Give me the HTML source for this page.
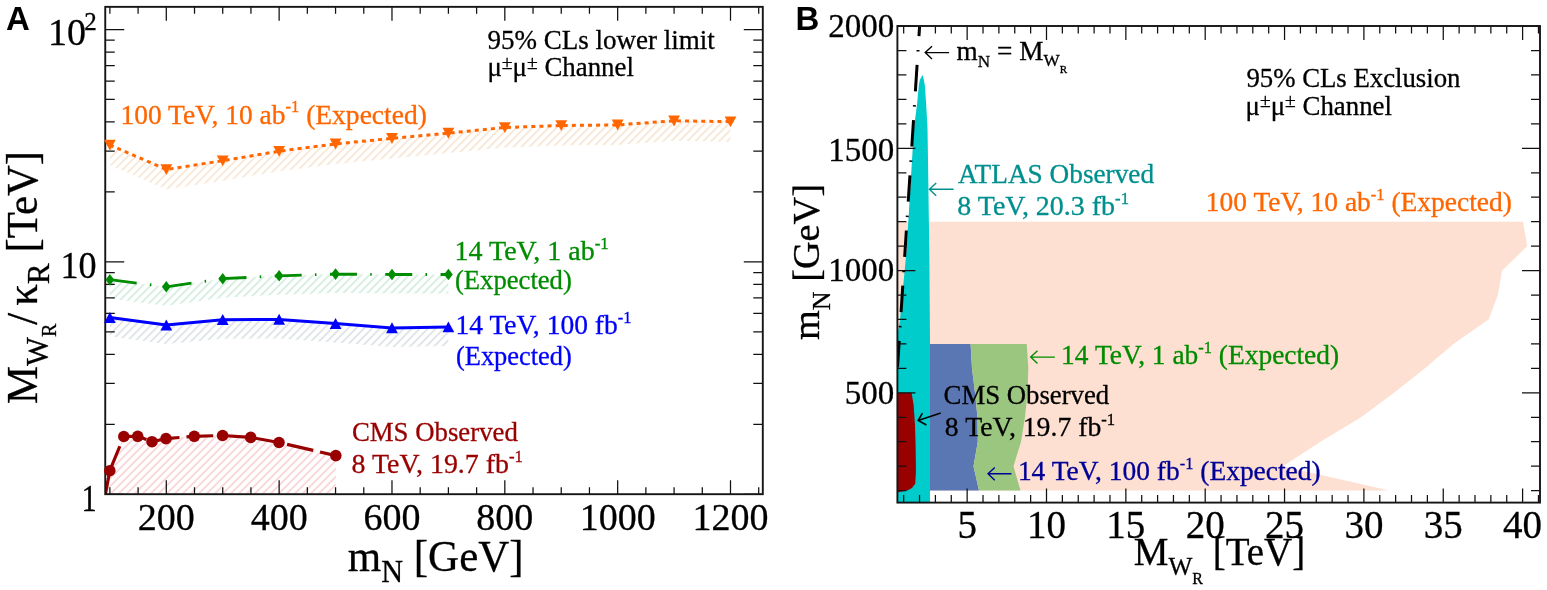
<!DOCTYPE html>
<html><head><meta charset="utf-8"><style>html,body{margin:0;padding:0;background:#fff;}svg{display:block;}</style></head>
<body>
<svg width="1547" height="590" viewBox="0 0 1547 590">
<defs>
<clipPath id="clipA"><rect x="105.25" y="6.85" width="657.55" height="487.35"/></clipPath>
<clipPath id="clipB"><rect x="897.40" y="26.00" width="642.60" height="476.60"/></clipPath>
<pattern id="hOr" patternUnits="userSpaceOnUse" width="5.66" height="8" patternTransform="rotate(45)"><line x1="2.83" y1="0" x2="2.83" y2="8" stroke="#f1d4b4" stroke-width="1.0"/></pattern>
<pattern id="hGr" patternUnits="userSpaceOnUse" width="5.66" height="8" patternTransform="rotate(45)"><line x1="2.83" y1="0" x2="2.83" y2="8" stroke="#b4dec8" stroke-width="1.0"/></pattern>
<pattern id="hBl" patternUnits="userSpaceOnUse" width="5.66" height="8" patternTransform="rotate(45)"><line x1="2.83" y1="0" x2="2.83" y2="8" stroke="#c4d0d2" stroke-width="1.0"/></pattern>
<pattern id="hRd" patternUnits="userSpaceOnUse" width="5.66" height="8" patternTransform="rotate(45)"><line x1="2.83" y1="0" x2="2.83" y2="8" stroke="#f09fa7" stroke-width="0.8"/></pattern>
</defs>
<rect x="0" y="0" width="1547" height="590" fill="#fff"/>
<g clip-path="url(#clipA)">
<polygon points="109.88,145.00 166.30,169.50 222.72,160.70 279.14,151.20 335.56,143.90 391.98,138.40 448.40,133.10 504.82,127.50 561.24,125.50 617.66,124.90 674.08,120.80 730.50,121.70 730.50,141.70 674.08,140.80 617.66,144.90 561.24,145.50 504.82,147.50 448.40,153.10 391.98,158.40 335.56,163.90 279.14,171.20 222.72,180.70 166.30,189.50 109.88,165.00" fill="url(#hOr)"/>
<polygon points="109.88,279.70 166.30,286.80 222.72,278.70 279.14,275.80 335.56,274.10 391.98,274.50 448.40,274.50 448.40,293.50 391.98,293.50 335.56,293.10 279.14,294.80 222.72,297.70 166.30,305.80 109.88,298.70" fill="url(#hGr)"/>
<polygon points="109.88,317.60 166.30,325.10 222.72,319.70 279.14,319.40 335.56,323.60 391.98,327.90 448.40,327.00 448.40,346.00 391.98,346.90 335.56,342.60 279.14,338.40 222.72,338.70 166.30,344.10 109.88,336.60" fill="url(#hBl)"/>
<polygon points="104.30,500.00 109.80,470.70 123.80,436.50 137.70,436.30 152.00,441.70 166.00,438.60 194.30,436.30 222.60,435.50 250.70,437.40 279.00,442.50 335.80,455.60 335.80,500.00" fill="url(#hRd)"/>
<polyline points="109.88,145.00 166.30,169.50 222.72,160.70 279.14,151.20 335.56,143.90 391.98,138.40 448.40,133.10 504.82,127.50 561.24,125.50 617.66,124.90 674.08,120.80 730.50,121.70" fill="none" stroke="#ff6600" stroke-width="3" stroke-dasharray="4 4.1"/>
<polyline points="109.88,279.70 166.30,286.80 222.72,278.70 279.14,275.80 335.56,274.10 391.98,274.50 448.40,274.50" fill="none" stroke="#008c00" stroke-width="2.8" stroke-dasharray="27 13.3 1.5 13.5"/>
<polyline points="109.88,317.60 166.30,325.10 222.72,319.70 279.14,319.40 335.56,323.60 391.98,327.90 448.40,327.00" fill="none" stroke="#0000ff" stroke-width="3" stroke-linejoin="round"/>
<line x1="104.3" y1="500" x2="109.8" y2="470.7" stroke="#990000" stroke-width="3.2"/>
<polyline points="109.80,470.70 123.80,436.50 137.70,436.30 152.00,441.70 166.00,438.60 194.30,436.30 222.60,435.50 250.70,437.40 279.00,442.50 335.80,455.60" fill="none" stroke="#990000" stroke-width="3.2" stroke-dasharray="26.8 7" stroke-dashoffset="0.4"/>
</g>
<path d="M109.88,494.20v-7M109.88,6.85v7M138.09,494.20v-7M138.09,6.85v7M166.30,494.20v-14M166.30,6.85v14M194.51,494.20v-7M194.51,6.85v7M222.72,494.20v-7M222.72,6.85v7M250.93,494.20v-7M250.93,6.85v7M279.14,494.20v-14M279.14,6.85v14M307.35,494.20v-7M307.35,6.85v7M335.56,494.20v-7M335.56,6.85v7M363.77,494.20v-7M363.77,6.85v7M391.98,494.20v-14M391.98,6.85v14M420.19,494.20v-7M420.19,6.85v7M448.40,494.20v-7M448.40,6.85v7M476.61,494.20v-7M476.61,6.85v7M504.82,494.20v-14M504.82,6.85v14M533.03,494.20v-7M533.03,6.85v7M561.24,494.20v-7M561.24,6.85v7M589.45,494.20v-7M589.45,6.85v7M617.66,494.20v-14M617.66,6.85v14M645.87,494.20v-7M645.87,6.85v7M674.08,494.20v-7M674.08,6.85v7M702.29,494.20v-7M702.29,6.85v7M730.50,494.20v-14M730.50,6.85v14M758.71,494.20v-7M758.71,6.85v7M105.25,494.30h19M762.80,494.30h-19M105.25,424.34h9.5M762.80,424.34h-9.5M105.25,383.42h9.5M762.80,383.42h-9.5M105.25,354.38h9.5M762.80,354.38h-9.5M105.25,331.86h9.5M762.80,331.86h-9.5M105.25,313.46h9.5M762.80,313.46h-9.5M105.25,297.90h9.5M762.80,297.90h-9.5M105.25,284.42h9.5M762.80,284.42h-9.5M105.25,272.53h9.5M762.80,272.53h-9.5M105.25,261.90h19M762.80,261.90h-19M105.25,191.94h9.5M762.80,191.94h-9.5M105.25,151.02h9.5M762.80,151.02h-9.5M105.25,121.98h9.5M762.80,121.98h-9.5M105.25,99.46h9.5M762.80,99.46h-9.5M105.25,81.06h9.5M762.80,81.06h-9.5M105.25,65.50h9.5M762.80,65.50h-9.5M105.25,52.02h9.5M762.80,52.02h-9.5M105.25,40.13h9.5M762.80,40.13h-9.5M105.25,29.50h19M762.80,29.50h-19" stroke="#111" stroke-width="1.25" fill="none"/>
<rect x="105.25" y="6.85" width="657.55" height="487.35" fill="none" stroke="#151515" stroke-width="1.9"/>
<polygon points="103.98,139.70 115.78,139.70 109.88,150.60" fill="#ff6600"/>
<polygon points="160.40,164.20 172.20,164.20 166.30,175.10" fill="#ff6600"/>
<polygon points="216.82,155.40 228.62,155.40 222.72,166.30" fill="#ff6600"/>
<polygon points="273.24,145.90 285.04,145.90 279.14,156.80" fill="#ff6600"/>
<polygon points="329.66,138.60 341.46,138.60 335.56,149.50" fill="#ff6600"/>
<polygon points="386.08,133.10 397.88,133.10 391.98,144.00" fill="#ff6600"/>
<polygon points="442.50,127.80 454.30,127.80 448.40,138.70" fill="#ff6600"/>
<polygon points="498.92,122.20 510.72,122.20 504.82,133.10" fill="#ff6600"/>
<polygon points="555.34,120.20 567.14,120.20 561.24,131.10" fill="#ff6600"/>
<polygon points="611.76,119.60 623.56,119.60 617.66,130.50" fill="#ff6600"/>
<polygon points="668.18,115.50 679.98,115.50 674.08,126.40" fill="#ff6600"/>
<polygon points="724.60,116.40 736.40,116.40 730.50,127.30" fill="#ff6600"/>
<polygon points="109.88,273.90 114.28,279.70 109.88,285.50 105.48,279.70" fill="#008c00"/>
<polygon points="166.30,281.00 170.70,286.80 166.30,292.60 161.90,286.80" fill="#008c00"/>
<polygon points="222.72,272.90 227.12,278.70 222.72,284.50 218.32,278.70" fill="#008c00"/>
<polygon points="279.14,270.00 283.54,275.80 279.14,281.60 274.74,275.80" fill="#008c00"/>
<polygon points="335.56,268.30 339.96,274.10 335.56,279.90 331.16,274.10" fill="#008c00"/>
<polygon points="391.98,268.70 396.38,274.50 391.98,280.30 387.58,274.50" fill="#008c00"/>
<polygon points="448.40,268.70 452.80,274.50 448.40,280.30 444.00,274.50" fill="#008c00"/>
<polygon points="103.98,322.90 115.78,322.90 109.88,312.00" fill="#0000ff"/>
<polygon points="160.40,330.40 172.20,330.40 166.30,319.50" fill="#0000ff"/>
<polygon points="216.82,325.00 228.62,325.00 222.72,314.10" fill="#0000ff"/>
<polygon points="273.24,324.70 285.04,324.70 279.14,313.80" fill="#0000ff"/>
<polygon points="329.66,328.90 341.46,328.90 335.56,318.00" fill="#0000ff"/>
<polygon points="386.08,333.20 397.88,333.20 391.98,322.30" fill="#0000ff"/>
<polygon points="442.50,332.30 454.30,332.30 448.40,321.40" fill="#0000ff"/>
<circle cx="109.80" cy="470.70" r="5.8" fill="#990000"/>
<circle cx="123.80" cy="436.50" r="5.8" fill="#990000"/>
<circle cx="137.70" cy="436.30" r="5.8" fill="#990000"/>
<circle cx="152.00" cy="441.70" r="5.8" fill="#990000"/>
<circle cx="166.00" cy="438.60" r="5.8" fill="#990000"/>
<circle cx="194.30" cy="436.30" r="5.8" fill="#990000"/>
<circle cx="222.60" cy="435.50" r="5.8" fill="#990000"/>
<circle cx="250.70" cy="437.40" r="5.8" fill="#990000"/>
<circle cx="279.00" cy="442.50" r="5.8" fill="#990000"/>
<circle cx="335.80" cy="455.60" r="5.8" fill="#990000"/>
<g clip-path="url(#clipB)">
<polygon points="897.40,221.65 1523.00,221.65 1527.30,246.10 1502.20,270.55 1497.80,295.00 1488.60,319.45 1453.40,343.90 1425.00,368.35 1394.00,392.80 1361.00,417.25 1320.50,441.70 1283.00,466.15 1389.00,490.60 897.40,490.60" fill="#fde0d1"/>
<polygon points="922.50,75.10 923.90,79.90 924.90,85.80 926.10,103.00 927.50,127.80 928.00,160.00 929.30,250.00 930.00,340.00 930.00,504.60 895.40,504.60 895.40,345.00 899.80,321.50 906.60,250.00 912.00,160.00 914.00,127.80 917.20,103.00 918.80,85.80 919.80,79.90" fill="#00cccc"/>
<polygon points="930.00,343.90 970.60,343.90 972.00,368.35 975.00,392.80 977.50,417.25 977.80,441.70 973.50,466.15 979.00,490.60 930.00,490.60" fill="#5b77b3"/>
<polygon points="970.60,343.90 1026.80,343.90 1028.30,368.35 1027.50,392.80 1025.00,417.25 1021.00,441.70 1013.50,466.15 1020.50,490.60 979.00,490.60 973.50,466.15 977.80,441.70 977.50,417.25 975.00,392.80 972.00,368.35" fill="#9bc67f"/>
<polygon points="895.40,392.70 911.60,392.70 913.60,405.00 915.00,425.00 915.60,445.00 915.90,465.00 915.90,473.20 915.20,483.80 912.00,488.00 907.80,490.20 898.30,492.30 895.40,492.50" fill="#990000"/>
<line x1="924.24" y1="-45.40" x2="894.08" y2="420.00" stroke="#000" stroke-width="3" stroke-dasharray="26.4 13.9 1.5 13.5"/>
</g>
<path d="M903.67,502.60v-7.5M903.67,26.00v7.5M919.54,502.60v-7.5M919.54,26.00v7.5M935.41,502.60v-7.5M935.41,26.00v7.5M951.28,502.60v-7.5M951.28,26.00v7.5M967.15,502.60v-14M967.15,26.00v14M983.02,502.60v-7.5M983.02,26.00v7.5M998.89,502.60v-7.5M998.89,26.00v7.5M1014.76,502.60v-7.5M1014.76,26.00v7.5M1030.63,502.60v-7.5M1030.63,26.00v7.5M1046.50,502.60v-14M1046.50,26.00v14M1062.37,502.60v-7.5M1062.37,26.00v7.5M1078.24,502.60v-7.5M1078.24,26.00v7.5M1094.11,502.60v-7.5M1094.11,26.00v7.5M1109.98,502.60v-7.5M1109.98,26.00v7.5M1125.85,502.60v-14M1125.85,26.00v14M1141.72,502.60v-7.5M1141.72,26.00v7.5M1157.59,502.60v-7.5M1157.59,26.00v7.5M1173.46,502.60v-7.5M1173.46,26.00v7.5M1189.33,502.60v-7.5M1189.33,26.00v7.5M1205.20,502.60v-14M1205.20,26.00v14M1221.07,502.60v-7.5M1221.07,26.00v7.5M1236.94,502.60v-7.5M1236.94,26.00v7.5M1252.81,502.60v-7.5M1252.81,26.00v7.5M1268.68,502.60v-7.5M1268.68,26.00v7.5M1284.55,502.60v-14M1284.55,26.00v14M1300.42,502.60v-7.5M1300.42,26.00v7.5M1316.29,502.60v-7.5M1316.29,26.00v7.5M1332.16,502.60v-7.5M1332.16,26.00v7.5M1348.03,502.60v-7.5M1348.03,26.00v7.5M1363.90,502.60v-14M1363.90,26.00v14M1379.77,502.60v-7.5M1379.77,26.00v7.5M1395.64,502.60v-7.5M1395.64,26.00v7.5M1411.51,502.60v-7.5M1411.51,26.00v7.5M1427.38,502.60v-7.5M1427.38,26.00v7.5M1443.25,502.60v-14M1443.25,26.00v14M1459.12,502.60v-7.5M1459.12,26.00v7.5M1474.99,502.60v-7.5M1474.99,26.00v7.5M1490.86,502.60v-7.5M1490.86,26.00v7.5M1506.73,502.60v-7.5M1506.73,26.00v7.5M1522.60,502.60v-14M1522.60,26.00v14M1538.47,502.60v-7.5M1538.47,26.00v7.5M897.40,490.60h9M1540.00,490.60h-9M897.40,466.15h9M1540.00,466.15h-9M897.40,441.70h9M1540.00,441.70h-9M897.40,417.25h9M1540.00,417.25h-9M897.40,392.80h18M1540.00,392.80h-18M897.40,368.35h9M1540.00,368.35h-9M897.40,343.90h9M1540.00,343.90h-9M897.40,319.45h9M1540.00,319.45h-9M897.40,295.00h9M1540.00,295.00h-9M897.40,270.55h18M1540.00,270.55h-18M897.40,246.10h9M1540.00,246.10h-9M897.40,221.65h9M1540.00,221.65h-9M897.40,197.20h9M1540.00,197.20h-9M897.40,172.75h9M1540.00,172.75h-9M897.40,148.30h18M1540.00,148.30h-18M897.40,123.85h9M1540.00,123.85h-9M897.40,99.40h9M1540.00,99.40h-9M897.40,74.95h9M1540.00,74.95h-9M897.40,50.50h9M1540.00,50.50h-9M897.40,26.05h18M1540.00,26.05h-18" stroke="#111" stroke-width="1.25" fill="none"/>
<rect x="897.40" y="26.00" width="642.60" height="476.60" fill="none" stroke="#151515" stroke-width="1.9"/>
<text id="t_A" transform="translate(6.00,29.60) scale(1,1)" font-family="Liberation Sans, Arial, sans-serif" font-weight="bold" font-size="33">A</text>
<text id="t_B" transform="translate(795.50,29.60) scale(1,1)" font-family="Liberation Sans, Arial, sans-serif" font-weight="bold" font-size="33">B</text>
<text id="t_Ax200" transform="translate(166.30,529.60)" font-family="Liberation Serif, Times New Roman, serif" font-size="38" fill="#000" stroke="#000" stroke-width="0.3" text-anchor="middle" >200</text>
<text id="t_Ax400" transform="translate(279.14,529.60)" font-family="Liberation Serif, Times New Roman, serif" font-size="38" fill="#000" stroke="#000" stroke-width="0.3" text-anchor="middle" >400</text>
<text id="t_Ax600" transform="translate(391.98,529.60)" font-family="Liberation Serif, Times New Roman, serif" font-size="38" fill="#000" stroke="#000" stroke-width="0.3" text-anchor="middle" >600</text>
<text id="t_Ax800" transform="translate(504.82,529.60)" font-family="Liberation Serif, Times New Roman, serif" font-size="38" fill="#000" stroke="#000" stroke-width="0.3" text-anchor="middle" >800</text>
<text id="t_Ax1000" transform="translate(617.66,529.60)" font-family="Liberation Serif, Times New Roman, serif" font-size="38" fill="#000" stroke="#000" stroke-width="0.3" text-anchor="middle" >1000</text>
<text id="t_Ax1200" transform="translate(730.50,529.60)" font-family="Liberation Serif, Times New Roman, serif" font-size="38" fill="#000" stroke="#000" stroke-width="0.3" text-anchor="middle" >1200</text>
<text id="t_A1" transform="translate(96.60,510.90) scale(0.8,1)" font-family="Liberation Serif, Times New Roman, serif" font-size="38" fill="#000" stroke="#000" stroke-width="0.3" text-anchor="end" >1</text>
<text id="t_A10" transform="translate(96.60,277.80) scale(0.95,1)" font-family="Liberation Serif, Times New Roman, serif" font-size="38" fill="#000" stroke="#000" stroke-width="0.3" text-anchor="end" >10</text>
<text id="t_A100" transform="translate(48.00,45.20)" font-family="Liberation Serif, Times New Roman, serif" font-size="38" fill="#000" stroke="#000" stroke-width="0.3" text-anchor="start" >10<tspan dy="-15" dx="-1.8" font-size="25">2</tspan></text>
<text id="t_Axt" transform="translate(347.71,570.50) scale(0.9774,1)" font-family="Liberation Serif, Times New Roman, serif" font-size="44" fill="#000" stroke="#000" stroke-width="0.3" text-anchor="start" >m<tspan dy="11.9" font-size="31">N</tspan><tspan dy="-11.9"> [GeV]</tspan></text>
<text id="t_Ayt" transform="translate(36.60,403.99) rotate(-90) scale(0.9845,1)" font-family="Liberation Serif, Times New Roman, serif" font-size="43.5" fill="#000" stroke="#000" stroke-width="0.3" text-anchor="start" >M<tspan dy="11.6" font-size="31">W</tspan><tspan dy="8.1" font-size="20.5">R</tspan><tspan dy="-19.7" dx="-1">/</tspan><tspan dx="7">κ</tspan><tspan dy="11.9" dx="0" font-size="32">R</tspan><tspan dy="-11.9"> [TeV]</tspan></text>
<text id="t_A95" transform="translate(487.46,48.80) scale(1.0003,1)" font-family="Liberation Serif, Times New Roman, serif" font-size="27" fill="#000" stroke="#000" stroke-width="0.3" text-anchor="start" >95% CLs lower limit</text>
<text id="t_Amu" transform="translate(487.42,76.20) scale(0.9947,1)" font-family="Liberation Serif, Times New Roman, serif" font-size="27" fill="#000" stroke="#000" stroke-width="0.3" text-anchor="start" >μ<tspan dy="-7.6" font-size="19.7">±</tspan><tspan dy="7.6">μ</tspan><tspan dy="-7.6" font-size="19.7">±</tspan><tspan dy="7.6"> Channel</tspan></text>
<text id="t_Aor" transform="translate(120.40,123.60) scale(1.0189,1)" font-family="Liberation Serif, Times New Roman, serif" font-size="27" fill="#ff6600" stroke="#ff6600" stroke-width="0.3" text-anchor="start" >100 TeV, 10 ab<tspan dy="-11.2" font-size="16.2">-1</tspan><tspan dy="11.2"> (Expected)</tspan></text>
<text id="t_Agr1" transform="translate(454.43,260.00) scale(1.0387,1)" font-family="Liberation Serif, Times New Roman, serif" font-size="27" fill="#008c00" stroke="#008c00" stroke-width="0.3" text-anchor="start" >14 TeV, 1 ab<tspan dy="-11.2" font-size="16.2">-1</tspan><tspan dy="11.2"></tspan></text>
<text id="t_Agr2" transform="translate(454.96,289.00) scale(0.9872,1)" font-family="Liberation Serif, Times New Roman, serif" font-size="27" fill="#008c00" stroke="#008c00" stroke-width="0.3" text-anchor="start" >(Expected)</text>
<text id="t_Abl1" transform="translate(455.50,334.20) scale(1.02,1)" font-family="Liberation Serif, Times New Roman, serif" font-size="27" fill="#0000ff" stroke="#0000ff" stroke-width="0.3" text-anchor="start" >14 TeV, 100 fb<tspan dy="-11.2" font-size="16.2">-1</tspan><tspan dy="11.2"></tspan></text>
<text id="t_Abl2" transform="translate(455.97,364.70) scale(0.9781,1)" font-family="Liberation Serif, Times New Roman, serif" font-size="27" fill="#0000ff" stroke="#0000ff" stroke-width="0.3" text-anchor="start" >(Expected)</text>
<text id="t_Ard1" transform="translate(351.88,441.00) scale(0.9931,1)" font-family="Liberation Serif, Times New Roman, serif" font-size="27" fill="#990000" stroke="#990000" stroke-width="0.3" text-anchor="start" >CMS Observed</text>
<text id="t_Ard2" transform="translate(351.60,473.30) scale(1.0332,1)" font-family="Liberation Serif, Times New Roman, serif" font-size="27" fill="#990000" stroke="#990000" stroke-width="0.3" text-anchor="start" >8 TeV, 19.7 fb<tspan dy="-11.2" font-size="16.2">-1</tspan><tspan dy="11.2"></tspan></text>
<text id="t_Bx5" transform="translate(967.15,537.60)" font-family="Liberation Serif, Times New Roman, serif" font-size="39" fill="#000" stroke="#000" stroke-width="0.3" text-anchor="middle" >5</text>
<text id="t_Bx10" transform="translate(1046.50,537.60)" font-family="Liberation Serif, Times New Roman, serif" font-size="39" fill="#000" stroke="#000" stroke-width="0.3" text-anchor="middle" >10</text>
<text id="t_Bx15" transform="translate(1125.85,537.60)" font-family="Liberation Serif, Times New Roman, serif" font-size="39" fill="#000" stroke="#000" stroke-width="0.3" text-anchor="middle" >15</text>
<text id="t_Bx20" transform="translate(1205.20,537.60)" font-family="Liberation Serif, Times New Roman, serif" font-size="39" fill="#000" stroke="#000" stroke-width="0.3" text-anchor="middle" >20</text>
<text id="t_Bx25" transform="translate(1284.55,537.60)" font-family="Liberation Serif, Times New Roman, serif" font-size="39" fill="#000" stroke="#000" stroke-width="0.3" text-anchor="middle" >25</text>
<text id="t_Bx30" transform="translate(1363.90,537.60)" font-family="Liberation Serif, Times New Roman, serif" font-size="39" fill="#000" stroke="#000" stroke-width="0.3" text-anchor="middle" >30</text>
<text id="t_Bx35" transform="translate(1443.25,537.60)" font-family="Liberation Serif, Times New Roman, serif" font-size="39" fill="#000" stroke="#000" stroke-width="0.3" text-anchor="middle" >35</text>
<text id="t_Bx40" transform="translate(1522.60,537.60)" font-family="Liberation Serif, Times New Roman, serif" font-size="39" fill="#000" stroke="#000" stroke-width="0.3" text-anchor="middle" >40</text>
<text id="t_By500" transform="translate(894.20,404.40)" font-family="Liberation Serif, Times New Roman, serif" font-size="33" fill="#000" stroke="#000" stroke-width="0.3" text-anchor="end" >500</text>
<text id="t_By1000" transform="translate(894.20,281.05)" font-family="Liberation Serif, Times New Roman, serif" font-size="33" fill="#000" stroke="#000" stroke-width="0.3" text-anchor="end" >1000</text>
<text id="t_By1500" transform="translate(894.20,160.60)" font-family="Liberation Serif, Times New Roman, serif" font-size="33" fill="#000" stroke="#000" stroke-width="0.3" text-anchor="end" >1500</text>
<text id="t_By2000" transform="translate(894.20,36.85)" font-family="Liberation Serif, Times New Roman, serif" font-size="33" fill="#000" stroke="#000" stroke-width="0.3" text-anchor="end" >2000</text>
<text id="t_Bxt" transform="translate(1133.78,565.20) scale(0.9996,1)" font-family="Liberation Serif, Times New Roman, serif" font-size="39" fill="#000" stroke="#000" stroke-width="0.3" text-anchor="start" >M<tspan dy="9.5" font-size="25.3">W</tspan><tspan dy="9.2" font-size="16">R</tspan><tspan dy="-18.7"> [TeV]</tspan></text>
<text id="t_Byt" transform="translate(819.30,340.00) rotate(-90) scale(1.0003,1)" font-family="Liberation Serif, Times New Roman, serif" font-size="38.3" fill="#000" stroke="#000" stroke-width="0.3" text-anchor="start" >m<tspan dy="10.2" font-size="26">N</tspan><tspan dy="-10.2"> [GeV]</tspan></text>
<text id="t_B95" transform="translate(1246.40,86.70) scale(0.9916,1)" font-family="Liberation Serif, Times New Roman, serif" font-size="27" fill="#000" stroke="#000" stroke-width="0.3" text-anchor="start" >95% CLs Exclusion</text>
<text id="t_Bmu" transform="translate(1245.51,114.50) scale(0.9946,1)" font-family="Liberation Serif, Times New Roman, serif" font-size="27" fill="#000" stroke="#000" stroke-width="0.3" text-anchor="start" >μ<tspan dy="-7.6" font-size="19.7">±</tspan><tspan dy="7.6">μ</tspan><tspan dy="-7.6" font-size="19.7">±</tspan><tspan dy="7.6"> Channel</tspan></text>
<text id="t_Beq" transform="translate(956.55,59.80) scale(1.0107,1)" font-family="Liberation Serif, Times New Roman, serif" font-size="27" fill="#000" stroke="#000" stroke-width="0.3" text-anchor="start" >m<tspan dy="7.4" font-size="17">N</tspan><tspan dy="-7.4"> = M</tspan><tspan dy="6.6" font-size="17">W</tspan><tspan dy="6.5" font-size="11">R</tspan></text>
<text id="t_Bat1" transform="translate(957.94,183.10) scale(1.0099,1)" font-family="Liberation Serif, Times New Roman, serif" font-size="27" fill="#008f8f" stroke="#008f8f" stroke-width="0.3" text-anchor="start" >ATLAS Observed</text>
<text id="t_Bat2" transform="translate(957.29,215.40) scale(1.036,1)" font-family="Liberation Serif, Times New Roman, serif" font-size="27" fill="#008f8f" stroke="#008f8f" stroke-width="0.3" text-anchor="start" >8 TeV, 20.3 fb<tspan dy="-11.2" font-size="16.2">-1</tspan><tspan dy="11.2"></tspan></text>
<text id="t_Bor" transform="translate(1205.87,210.90) scale(1.0178,1)" font-family="Liberation Serif, Times New Roman, serif" font-size="27" fill="#ff6600" stroke="#ff6600" stroke-width="0.3" text-anchor="start" >100 TeV, 10 ab<tspan dy="-11.2" font-size="16.2">-1</tspan><tspan dy="11.2"> (Expected)</tspan></text>
<text id="t_Bgr" transform="translate(1061.10,363.90) scale(1.0159,1)" font-family="Liberation Serif, Times New Roman, serif" font-size="27" fill="#008c00" stroke="#008c00" stroke-width="0.3" text-anchor="start" >14 TeV, 1 ab<tspan dy="-11.2" font-size="16.2">-1</tspan><tspan dy="11.2"> (Expected)</tspan></text>
<text id="t_Brd1" transform="translate(943.56,403.60) scale(0.9907,1)" font-family="Liberation Serif, Times New Roman, serif" font-size="27" fill="#000" stroke="#000" stroke-width="0.3" text-anchor="start" >CMS Observed</text>
<text id="t_Brd2" transform="translate(944.83,436.10) scale(1.0278,1)" font-family="Liberation Serif, Times New Roman, serif" font-size="27" fill="#000" stroke="#000" stroke-width="0.3" text-anchor="start" >8 TeV, 19.7 fb<tspan dy="-11.2" font-size="16.2">-1</tspan><tspan dy="11.2"></tspan></text>
<text id="t_Bbl" transform="translate(1017.89,479.90) scale(1.0172,1)" font-family="Liberation Serif, Times New Roman, serif" font-size="27" fill="#000099" stroke="#000099" stroke-width="0.3" text-anchor="start" >14 TeV, 100 fb<tspan dy="-11.2" font-size="16.2">-1</tspan><tspan dy="11.2"> (Expected)</tspan></text>
<path d="M949.10,52.60H925.20M932.00,46.20L925.20,52.60L932.00,59.00" stroke="#000" stroke-width="1.4" fill="none"/>
<path d="M953.60,189.30H929.40M936.20,182.90L929.40,189.30L936.20,195.70" stroke="#008f8f" stroke-width="1.4" fill="none"/>
<path d="M1054.90,357.10H1030.70M1037.50,350.70L1030.70,357.10L1037.50,363.50" stroke="#008c00" stroke-width="1.4" fill="none"/>
<path d="M1011.40,473.80H988.00M994.80,467.40L988.00,473.80L994.80,480.20" stroke="#000099" stroke-width="1.4" fill="none"/>
<path d="M940.8,413L918.2,420.5M922.4,413.2L918.2,420.5L926.4,425" stroke="#000" stroke-width="1.6" fill="none" stroke-linejoin="miter"/>
</svg>
</body></html>
